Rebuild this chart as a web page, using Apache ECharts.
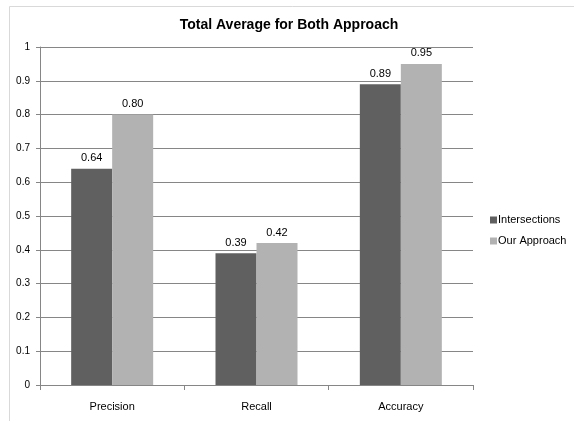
<!DOCTYPE html>
<html>
<head>
<meta charset="utf-8">
<script src="https://cdn.jsdelivr.net/npm/echarts@6/dist/echarts.min.js"></script>
<style>body{margin:0;background:#fff;}</style>
</head>
<body>
<div id="main" style="width:574px;height:421px;"></div>
<script type="text/javascript">
    // 数据
    var categories = ['Precision', 'Recall', 'Accuracy'];
    var intersections = [0.64, 0.39, 0.89];
    var ourApproach = [0.80, 0.42, 0.95];

    var font = '"Liberation Sans", Arial, sans-serif';
    var myChart = echarts.init(document.getElementById('main'));
    var labelOpt = {
        show: true,
        position: 'top',
        distance: 5,
        color: '#000',
        fontSize: 11,
        fontFamily: font,
        formatter: function (p) { return p.value.toFixed(2); }
    };
    var option = {
        animation: false,
        backgroundColor: '#fff',
        title: {
            text: 'Total Average for Both Approach',
            left: 284,
            textAlign: 'center',
            top: 13,
            textStyle: { fontSize: 14, fontWeight: 'bold', color: '#000', fontFamily: font }
        },
        graphic: [{
            type: 'rect',
            shape: { x: 9.5, y: 6.5, width: 600, height: 440 },
            style: { fill: 'none', stroke: '#d9d9d9', lineWidth: 1 },
            silent: true
        }],
        legend: {
            orient: 'vertical',
            left: 490,
            top: 213,
            padding: 0,
            itemWidth: 7,
            itemHeight: 7,
            itemGap: 7,
            icon: 'rect',
            textStyle: { fontSize: 11, lineHeight: 14, color: '#000', fontFamily: font, padding: [0, 0, 0, -4] },
            data: ['Intersections', 'Our Approach']
        },
        grid: { left: 40, right: 101, top: 47, bottom: 36, containLabel: false },
        xAxis: {
            type: 'category',
            data: categories,
            axisLine: { lineStyle: { color: '#868686' } },
            axisTick: { show: true, length: 5, lineStyle: { color: '#868686' } },
            axisLabel: { color: '#000', fontSize: 11, fontFamily: font, margin: 16 }
        },
        yAxis: {
            type: 'value',
            min: 0,
            max: 1,
            interval: 0.1,
            axisLine: { show: true, lineStyle: { color: '#868686' } },
            axisTick: { show: true, length: 4, lineStyle: { color: '#868686' } },
            axisLabel: { color: '#000', fontSize: 10, fontFamily: font, margin: 10 },
            splitLine: { lineStyle: { color: '#868686' } }
        },
        series: [{
            name: 'Intersections',
            type: 'bar',
            data: intersections,
            barWidth: 41,
            barGap: '0%',
            itemStyle: { color: '#606060' },
            label: labelOpt
        }, {
            name: 'Our Approach',
            type: 'bar',
            data: ourApproach,
            barWidth: 41,
            itemStyle: { color: '#b2b2b2' },
            label: labelOpt
        }]
    };
    myChart.setOption(option);
</script>
</body>
</html>
